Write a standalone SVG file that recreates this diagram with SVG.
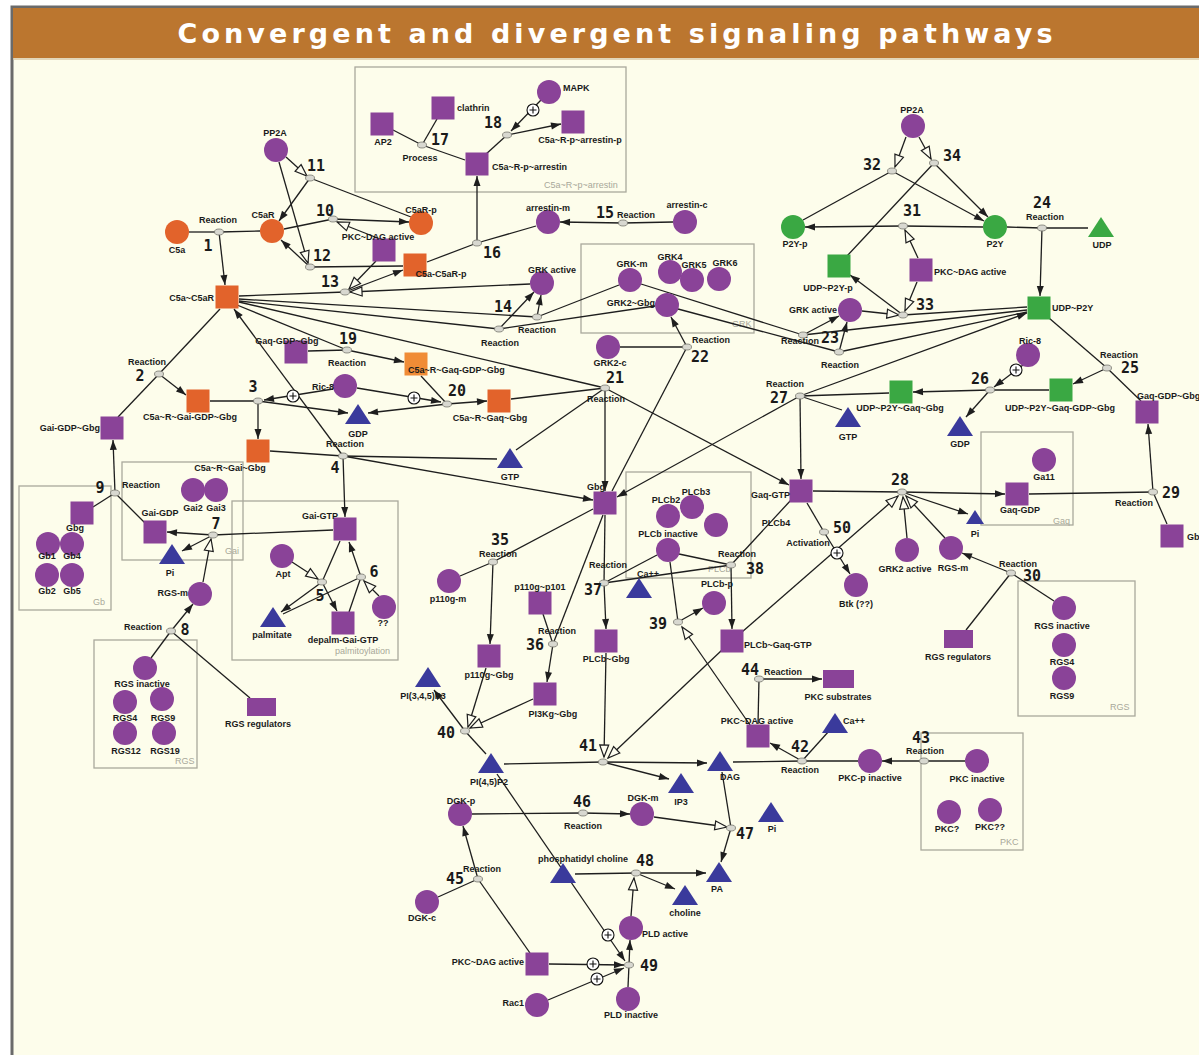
<svg xmlns="http://www.w3.org/2000/svg" xmlns:xlink="http://www.w3.org/1999/xlink" width="1199" height="1055" viewBox="0 0 1199 1055">
<style>
.p{fill:#8A4398}.o{fill:#E2632B}.lo{fill:#F08C36}.g{fill:#3AA843}.b{fill:#3A3A9C}
.t{font-family:"Liberation Sans",Arial,sans-serif;font-size:9px;font-weight:bold;fill:#1a1a1a;text-anchor:middle}
.s{text-anchor:start}.e{text-anchor:end}
.n{font-family:"DejaVu Sans Mono",monospace;font-size:15px;font-weight:bold;fill:#1a1a1a;text-anchor:middle}
.gl{font-family:"Liberation Sans",Arial,sans-serif;font-size:9px;fill:#a8a89a}
.box{fill:none;stroke:#aaa99c;stroke-width:1.3}
.rx{fill:#d8d8d0;stroke:#77776f;stroke-width:0.8}
#connectors line{stroke:#1e1e1e;stroke-width:1.3}
.a{marker-end:url(#ah)}.m{marker-end:url(#oh)}
.pl circle{fill:#fff;stroke:#111;stroke-width:1.1}.pl path{stroke:#111;stroke-width:1.1}
</style>
<defs>
<marker id="ah" markerUnits="userSpaceOnUse" markerWidth="11" markerHeight="8" refX="10" refY="3.5" orient="auto" overflow="visible"><path d="M0,0 L10,3.5 L0,7 z" fill="#1e1e1e"/></marker>
<marker id="oh" markerUnits="userSpaceOnUse" markerWidth="13" markerHeight="10" refX="12" refY="4.5" orient="auto" overflow="visible"><path d="M0,0 L12,4.5 L0,9 z" fill="#fdfdf0" stroke="#1e1e1e" stroke-width="1.2"/></marker>
<polygon id="tri" points="0,-11 -13,9 13,9"/>
<polygon id="trs" points="0,-8 -9,6 9,6"/>
</defs>
<rect width="1199" height="1055" fill="#ffffff"/>
<rect x="12" y="7" width="1190" height="1052" fill="#FDFDEB" stroke="#6a6a6a" stroke-width="3"/>
<rect x="13" y="8" width="1186" height="50" fill="#BB762F"/>
<line x1="13" y1="59" x2="1199" y2="59" stroke="#d8c9a8" stroke-width="1.5"/>
<text x="615" y="43" text-anchor="middle" font-family="DejaVu Sans,Verdana,sans-serif" font-weight="bold" font-size="27" fill="#ffffff" textLength="875" lengthAdjust="spacing">Convergent and divergent signaling pathways</text>

<g id="groups">
<rect class="box" x="355" y="67" width="271" height="125"/><text class="gl" x="544" y="188">C5a~R~p~arrestin</text>
<rect class="box" x="581" y="244" width="173" height="89"/><text class="gl" x="732" y="327">GRK</text>
<rect class="box" x="19" y="486" width="92" height="124"/><text class="gl" x="93" y="605">Gb</text>
<rect class="box" x="122" y="462" width="121" height="98"/><text class="gl" x="225" y="554">Gai</text>
<rect class="box" x="232" y="501" width="166" height="159"/><text class="gl" x="335" y="654">palmitoylation</text>
<rect class="box" x="94" y="640" width="103" height="128"/><text class="gl" x="175" y="764">RGS</text>
<rect class="box" x="626" y="472" width="125" height="106"/><text class="gl" x="708" y="572">PLCb</text>
<rect class="box" x="981" y="432" width="92" height="93"/><text class="gl" x="1053" y="524">Gaq</text>
<rect class="box" x="1018" y="581" width="117" height="135"/><text class="gl" x="1110" y="710">RGS</text>
<rect class="box" x="921" y="733" width="102" height="117"/><text class="gl" x="1000" y="845">PKC</text>
</g>

<g id="connectors">
<line x1="189" y1="232" x2="219" y2="232"/><line x1="219" y1="232" x2="260" y2="231"/><line class="a" x1="219" y1="232" x2="225" y2="285"/>
<line x1="284" y1="229" x2="333" y2="219"/><line class="a" x1="333" y1="219" x2="409" y2="222"/><line class="m" x1="380" y1="239" x2="337" y2="222"/>
<line class="m" x1="286" y1="157" x2="307" y2="176"/><line x1="310" y1="178" x2="411" y2="217"/><line class="a" x1="310" y1="178" x2="279" y2="221"/>
<line class="m" x1="279" y1="162" x2="308" y2="263"/><line x1="310" y1="267" x2="403" y2="266"/><line class="a" x1="310" y1="267" x2="281" y2="240"/>
<line x1="239" y1="296" x2="345" y2="292"/><line class="a" x1="345" y1="292" x2="403" y2="270"/><line class="m" x1="530" y1="284" x2="350" y2="292"/><line class="m" x1="376" y1="261" x2="349" y2="289"/>
<line x1="427" y1="262" x2="477" y2="243"/><line x1="477" y1="243" x2="536" y2="226"/><line class="a" x1="477" y1="243" x2="477" y2="176"/>
<line x1="673" y1="222" x2="623" y2="223"/><line class="a" x1="623" y1="223" x2="560" y2="222"/>
<line x1="393" y1="130" x2="422" y2="145"/><line x1="437" y1="119" x2="422" y2="145"/><line x1="422" y1="145" x2="465" y2="160"/>
<line x1="485" y1="155" x2="507" y2="135"/><line class="a" x1="507" y1="135" x2="561" y2="124"/><line class="a" x1="541" y1="100" x2="511" y2="131"/>
<line x1="239" y1="299" x2="537" y2="317"/><line x1="619" y1="285" x2="537" y2="317"/><line class="a" x1="537" y1="317" x2="541" y2="295"/>
<line x1="239" y1="301" x2="499" y2="329"/><line x1="655" y1="306" x2="499" y2="329"/><line class="a" x1="499" y1="329" x2="534" y2="292"/>
<line x1="620" y1="347" x2="687" y2="347"/><line class="a" x1="687" y1="347" x2="671" y2="317"/><line x1="612" y1="491" x2="687" y2="347"/>
<line x1="641" y1="284" x2="803" y2="335"/><line x1="1027" y1="310" x2="803" y2="335"/><line class="a" x1="803" y1="335" x2="839" y2="316"/>
<line x1="678" y1="309" x2="839" y2="352"/><line x1="1027" y1="312" x2="839" y2="352"/><line class="a" x1="839" y1="352" x2="847" y2="322"/>
<line x1="1027" y1="307" x2="903" y2="315"/><line class="m" x1="862" y1="311" x2="899" y2="315"/><line class="m" x1="917" y1="282" x2="905" y2="311"/><line class="a" x1="903" y1="315" x2="850" y2="275"/>
<line x1="983" y1="227" x2="903" y2="226"/><line class="a" x1="903" y1="226" x2="805" y2="227"/><line class="m" x1="918" y1="258" x2="905" y2="230"/>
<line class="m" x1="906" y1="137" x2="895" y2="167"/><line x1="803" y1="220" x2="892" y2="171"/><line class="a" x1="892" y1="171" x2="984" y2="221"/>
<line class="m" x1="919" y1="137" x2="931" y2="159"/><line x1="847" y1="256" x2="934" y2="163"/><line class="a" x1="934" y1="163" x2="988" y2="217"/>
<line x1="1007" y1="227" x2="1042" y2="228"/><line x1="1042" y1="228" x2="1088" y2="228"/><line class="a" x1="1042" y1="228" x2="1040" y2="296"/>
<line x1="1049" y1="318" x2="1107" y2="368"/><line x1="1107" y1="368" x2="1141" y2="401"/><line class="a" x1="1107" y1="368" x2="1073" y2="384"/>
<line x1="1049" y1="390" x2="990" y2="390"/><line class="a" x1="990" y1="390" x2="913" y2="392"/><line class="a" x1="990" y1="390" x2="966" y2="417"/><line class="a" x1="1023" y1="365" x2="994" y2="387"/>
<line x1="889" y1="393" x2="800" y2="396"/><line x1="842" y1="410" x2="800" y2="396"/><line class="a" x1="800" y1="396" x2="1027" y2="313"/><line class="a" x1="800" y1="396" x2="801" y2="479"/><line class="a" x1="800" y1="396" x2="617" y2="497"/>
<line x1="239" y1="302" x2="605" y2="388"/><line x1="511" y1="399" x2="605" y2="388"/><line x1="516" y1="450" x2="605" y2="388"/><line class="a" x1="605" y1="388" x2="605" y2="491"/><line class="a" x1="605" y1="388" x2="789" y2="485"/>
<line x1="308" y1="351" x2="347" y2="350"/><line x1="237" y1="305" x2="347" y2="350"/><line class="a" x1="347" y1="350" x2="404" y2="362"/>
<line x1="421" y1="376" x2="447" y2="404"/><line class="a" x1="447" y1="404" x2="487" y2="401"/><line class="a" x1="447" y1="404" x2="368" y2="413"/><line class="a" x1="357" y1="388" x2="441" y2="402"/>
<line x1="210" y1="401" x2="258" y2="401"/><line class="a" x1="258" y1="401" x2="258" y2="439"/><line class="a" x1="258" y1="401" x2="348" y2="413"/><line class="a" x1="333" y1="389" x2="264" y2="400"/>
<line x1="220" y1="309" x2="159" y2="374"/><line x1="118" y1="417" x2="159" y2="374"/><line class="a" x1="159" y1="374" x2="186" y2="395"/>
<line x1="270" y1="451" x2="343" y2="456"/><line x1="343" y1="456" x2="497" y2="459"/><line class="a" x1="343" y1="456" x2="345" y2="517"/><line class="a" x1="343" y1="456" x2="593" y2="500"/><line class="a" x1="343" y1="456" x2="234" y2="309"/>
<line x1="93" y1="507" x2="115" y2="493"/><line x1="145" y1="523" x2="115" y2="493"/><line class="a" x1="115" y1="493" x2="113" y2="440"/>
<line x1="333" y1="530" x2="213" y2="535"/><line class="a" x1="213" y1="535" x2="167" y2="532"/><line class="a" x1="213" y1="535" x2="182" y2="551"/><line class="m" x1="203" y1="582" x2="211" y2="539"/>
<line x1="151" y1="658" x2="171" y2="631"/><line x1="250" y1="698" x2="171" y2="631"/><line class="a" x1="171" y1="631" x2="193" y2="604"/>
<line x1="340" y1="541" x2="322" y2="582"/><line class="m" x1="292" y1="562" x2="318" y2="579"/><line class="a" x1="322" y1="582" x2="337" y2="611"/><line class="a" x1="322" y1="582" x2="281" y2="612"/>
<line x1="349" y1="612" x2="361" y2="577"/><line class="a" x1="361" y1="577" x2="349" y2="542"/><line x1="361" y1="577" x2="283" y2="614"/><line class="m" x1="379" y1="596" x2="364" y2="581"/>
<line x1="593" y1="509" x2="493" y2="562"/><line x1="460" y1="576" x2="493" y2="562"/><line class="a" x1="493" y1="562" x2="490" y2="644"/>
<line x1="603" y1="515" x2="553" y2="644"/><line x1="543" y1="614" x2="553" y2="644"/><line class="a" x1="553" y1="644" x2="547" y2="682"/>
<line x1="486" y1="754" x2="465" y2="731"/><line class="a" x1="465" y1="731" x2="434" y2="690"/><line class="m" x1="486" y1="668" x2="468" y2="727"/><line class="m" x1="533" y1="699" x2="470" y2="728"/>
<line x1="504" y1="764" x2="603" y2="762"/><line class="a" x1="603" y1="762" x2="707" y2="763"/><line class="a" x1="603" y1="762" x2="669" y2="779"/><line class="m" x1="606" y1="653" x2="604" y2="757"/><line class="m" x1="722" y1="650" x2="608" y2="758"/>
<line x1="733" y1="762" x2="802" y2="761"/><line x1="802" y1="761" x2="858" y2="761"/><line class="a" x1="802" y1="761" x2="770" y2="743"/><line x1="802" y1="761" x2="829" y2="731"/>
<line x1="965" y1="761" x2="924" y2="761"/><line class="a" x1="924" y1="761" x2="882" y2="761"/>
<line x1="758" y1="724" x2="759" y2="679"/><line class="a" x1="759" y1="679" x2="822" y2="679"/>
<line x1="670" y1="562" x2="678" y2="622"/><line class="a" x1="678" y1="622" x2="703" y2="608"/><line class="m" x1="750" y1="725" x2="682" y2="627"/>
<line x1="679" y1="554" x2="731" y2="565"/><line x1="791" y1="500" x2="731" y2="565"/><line class="a" x1="731" y1="565" x2="732" y2="629"/>
<line x1="657" y1="555" x2="604" y2="583"/><line x1="605" y1="515" x2="604" y2="583"/><line class="a" x1="604" y1="583" x2="606" y2="629"/><line x1="604" y1="583" x2="731" y2="565"/>
<line x1="813" y1="491" x2="902" y2="492"/><line class="a" x1="902" y1="492" x2="1005" y2="494"/><line class="a" x1="902" y1="492" x2="968" y2="514"/><line class="m" x1="907" y1="538" x2="903" y2="497"/><line class="m" x1="945" y1="538" x2="906" y2="496"/><line class="m" x1="742" y1="632" x2="898" y2="496"/>
<line x1="1029" y1="494" x2="1153" y2="492"/><line x1="1167" y1="524" x2="1153" y2="492"/><line class="a" x1="1153" y1="492" x2="1148" y2="424"/>
<line x1="1054" y1="601" x2="1011" y2="573"/><line x1="966" y1="630" x2="1011" y2="573"/><line class="a" x1="1011" y1="573" x2="962" y2="553"/>
<line x1="807" y1="503" x2="824" y2="532"/><line class="a" x1="824" y1="532" x2="850" y2="574"/>
<line x1="472" y1="814" x2="583" y2="813"/><line class="a" x1="583" y1="813" x2="630" y2="814"/>
<line class="m" x1="654" y1="817" x2="727" y2="827"/><line x1="722" y1="772" x2="731" y2="828"/><line class="a" x1="731" y1="828" x2="721" y2="862"/>
<line x1="438" y1="897" x2="478" y2="879"/><line x1="530" y1="953" x2="478" y2="879"/><line class="a" x1="478" y1="879" x2="463" y2="826"/>
<line x1="575" y1="874" x2="636" y2="873"/><line class="a" x1="636" y1="873" x2="706" y2="873"/><line class="a" x1="636" y1="873" x2="675" y2="889"/><line class="m" x1="631" y1="916" x2="634" y2="878"/>
<line x1="628" y1="987" x2="629" y2="965"/><line class="a" x1="629" y1="965" x2="630" y2="940"/><line class="a" x1="549" y1="964" x2="624" y2="965"/><line class="a" x1="548" y1="1000" x2="624" y2="968"/><line class="a" x1="497" y1="774" x2="625" y2="961"/>
</g>

<g id="plus" class="pl">
<g transform="translate(533,110)"><circle r="6"/><path d="M-3.5,0 H3.5 M0,-3.5 V3.5"/></g>
<g transform="translate(293,396)"><circle r="6"/><path d="M-3.5,0 H3.5 M0,-3.5 V3.5"/></g>
<g transform="translate(414,398)"><circle r="6"/><path d="M-3.5,0 H3.5 M0,-3.5 V3.5"/></g>
<g transform="translate(1016,370)"><circle r="6"/><path d="M-3.5,0 H3.5 M0,-3.5 V3.5"/></g>
<g transform="translate(837,553)"><circle r="6"/><path d="M-3.5,0 H3.5 M0,-3.5 V3.5"/></g>
<g transform="translate(608,935)"><circle r="6"/><path d="M-3.5,0 H3.5 M0,-3.5 V3.5"/></g>
<g transform="translate(593,964)"><circle r="6"/><path d="M-3.5,0 H3.5 M0,-3.5 V3.5"/></g>
<g transform="translate(597,979)"><circle r="6"/><path d="M-3.5,0 H3.5 M0,-3.5 V3.5"/></g>
</g>

<g id="reactions">
<g id="r1"><ellipse class="rx" cx="219" cy="232" rx="4.5" ry="3"/><text class="n" x="208" y="251">1</text><text class="t" x="218" y="223">Reaction</text></g>
<g id="r2"><ellipse class="rx" cx="159" cy="374" rx="4.5" ry="3"/><text class="n" x="140" y="381">2</text><text class="t" x="147" y="365">Reaction</text></g>
<g id="r3"><ellipse class="rx" cx="258" cy="401" rx="4.5" ry="3"/><text class="n" x="253" y="392">3</text></g>
<g id="r4"><ellipse class="rx" cx="343" cy="456" rx="4.5" ry="3"/><text class="n" x="335" y="473">4</text><text class="t" x="345" y="447">Reaction</text></g>
<g id="r5"><ellipse class="rx" cx="322" cy="582" rx="4.5" ry="3"/><text class="n" x="320" y="601">5</text></g>
<g id="r6"><ellipse class="rx" cx="361" cy="577" rx="4.5" ry="3"/><text class="n" x="374" y="577">6</text></g>
<g id="r7"><ellipse class="rx" cx="213" cy="535" rx="4.5" ry="3"/><text class="n" x="216" y="529">7</text></g>
<g id="r8"><ellipse class="rx" cx="171" cy="631" rx="4.5" ry="3"/><text class="n" x="185" y="635">8</text><text class="t" x="143" y="630">Reaction</text></g>
<g id="r9"><ellipse class="rx" cx="115" cy="493" rx="4.5" ry="3"/><text class="n" x="100" y="493">9</text><text class="t" x="141" y="488">Reaction</text></g>
<g id="r10"><ellipse class="rx" cx="333" cy="219" rx="4.5" ry="3"/><text class="n" x="325" y="216">10</text></g>
<g id="r11"><ellipse class="rx" cx="310" cy="178" rx="4.5" ry="3"/><text class="n" x="316" y="171">11</text></g>
<g id="r12"><ellipse class="rx" cx="310" cy="267" rx="4.5" ry="3"/><text class="n" x="322" y="261">12</text></g>
<g id="r13"><ellipse class="rx" cx="345" cy="292" rx="4.5" ry="3"/><text class="n" x="330" y="287">13</text></g>
<g id="r14"><ellipse class="rx" cx="537" cy="317" rx="4.5" ry="3"/><ellipse class="rx" cx="499" cy="329" rx="4.5" ry="3"/><text class="n" x="503" y="312">14</text><text class="t" x="537" y="333">Reaction</text><text class="t" x="500" y="346">Reaction</text></g>
<g id="r15"><ellipse class="rx" cx="623" cy="223" rx="4.5" ry="3"/><text class="n" x="605" y="218">15</text><text class="t s" x="617" y="218">Reaction</text></g>
<g id="r16"><ellipse class="rx" cx="477" cy="243" rx="4.5" ry="3"/><text class="n" x="492" y="258">16</text></g>
<g id="r17"><ellipse class="rx" cx="422" cy="145" rx="4.5" ry="3"/><text class="n" x="440" y="145">17</text><text class="t" x="420" y="161">Process</text></g>
<g id="r18"><ellipse class="rx" cx="507" cy="135" rx="4.5" ry="3"/><text class="n" x="493" y="128">18</text></g>
<g id="r19"><ellipse class="rx" cx="347" cy="350" rx="4.5" ry="3"/><text class="n" x="348" y="344">19</text><text class="t" x="347" y="366">Reaction</text></g>
<g id="r20"><ellipse class="rx" cx="447" cy="404" rx="4.5" ry="3"/><text class="n" x="457" y="396">20</text></g>
<g id="r21"><ellipse class="rx" cx="605" cy="388" rx="4.5" ry="3"/><text class="n" x="615" y="383">21</text><text class="t" x="606" y="402">Reaction</text></g>
<g id="r22"><ellipse class="rx" cx="687" cy="347" rx="4.5" ry="3"/><text class="n" x="700" y="362">22</text><text class="t" x="711" y="343">Reaction</text></g>
<g id="r23"><ellipse class="rx" cx="803" cy="335" rx="4.5" ry="3"/><ellipse class="rx" cx="839" cy="352" rx="4.5" ry="3"/><text class="n" x="830" y="343">23</text><text class="t" x="800" y="344">Reaction</text><text class="t" x="840" y="368">Reaction</text></g>
<g id="r24"><ellipse class="rx" cx="1042" cy="228" rx="4.5" ry="3"/><text class="n" x="1042" y="208">24</text><text class="t" x="1045" y="220">Reaction</text></g>
<g id="r25"><ellipse class="rx" cx="1107" cy="368" rx="4.5" ry="3"/><text class="n" x="1130" y="373">25</text><text class="t" x="1119" y="358">Reaction</text></g>
<g id="r26"><ellipse class="rx" cx="990" cy="390" rx="4.5" ry="3"/><text class="n" x="980" y="384">26</text></g>
<g id="r27"><ellipse class="rx" cx="800" cy="396" rx="4.5" ry="3"/><text class="n" x="779" y="403">27</text><text class="t" x="785" y="387">Reaction</text></g>
<g id="r28"><ellipse class="rx" cx="902" cy="492" rx="4.5" ry="3"/><text class="n" x="900" y="485">28</text></g>
<g id="r29"><ellipse class="rx" cx="1153" cy="492" rx="4.5" ry="3"/><text class="n" x="1171" y="498">29</text><text class="t" x="1134" y="506">Reaction</text></g>
<g id="r30"><ellipse class="rx" cx="1011" cy="573" rx="4.5" ry="3"/><text class="n" x="1032" y="581">30</text><text class="t" x="1018" y="567">Reaction</text></g>
<g id="r31"><ellipse class="rx" cx="903" cy="226" rx="4.5" ry="3"/><text class="n" x="912" y="216">31</text></g>
<g id="r32"><ellipse class="rx" cx="892" cy="171" rx="4.5" ry="3"/><text class="n" x="872" y="170">32</text></g>
<g id="r33"><ellipse class="rx" cx="903" cy="315" rx="4.5" ry="3"/><text class="n" x="925" y="310">33</text></g>
<g id="r34"><ellipse class="rx" cx="934" cy="163" rx="4.5" ry="3"/><text class="n" x="952" y="161">34</text></g>
<g id="r35"><ellipse class="rx" cx="493" cy="562" rx="4.5" ry="3"/><text class="n" x="500" y="545">35</text><text class="t" x="498" y="557">Reaction</text></g>
<g id="r36"><ellipse class="rx" cx="553" cy="644" rx="4.5" ry="3"/><text class="n" x="535" y="650">36</text><text class="t" x="557" y="634">Reaction</text></g>
<g id="r37"><ellipse class="rx" cx="604" cy="583" rx="4.5" ry="3"/><text class="n" x="593" y="595">37</text><text class="t" x="608" y="568">Reaction</text></g>
<g id="r38"><ellipse class="rx" cx="731" cy="565" rx="4.5" ry="3"/><text class="n" x="755" y="574">38</text><text class="t" x="737" y="557">Reaction</text></g>
<g id="r39"><ellipse class="rx" cx="678" cy="622" rx="4.5" ry="3"/><text class="n" x="658" y="629">39</text></g>
<g id="r40"><ellipse class="rx" cx="465" cy="731" rx="4.5" ry="3"/><text class="n" x="446" y="738">40</text></g>
<g id="r41"><ellipse class="rx" cx="603" cy="762" rx="4.5" ry="3"/><text class="n" x="588" y="751">41</text></g>
<g id="r42"><ellipse class="rx" cx="802" cy="761" rx="4.5" ry="3"/><text class="n" x="800" y="752">42</text><text class="t" x="800" y="773">Reaction</text></g>
<g id="r43"><ellipse class="rx" cx="924" cy="761" rx="4.5" ry="3"/><text class="n" x="921" y="743">43</text><text class="t" x="925" y="754">Reaction</text></g>
<g id="r44"><ellipse class="rx" cx="759" cy="679" rx="4.5" ry="3"/><text class="n" x="750" y="675">44</text><text class="t s" x="764" y="675">Reaction</text></g>
<g id="r45"><ellipse class="rx" cx="478" cy="879" rx="4.5" ry="3"/><text class="n" x="455" y="884">45</text><text class="t" x="482" y="872">Reaction</text></g>
<g id="r46"><ellipse class="rx" cx="583" cy="813" rx="4.5" ry="3"/><text class="n" x="582" y="807">46</text><text class="t" x="583" y="829">Reaction</text></g>
<g id="r47"><ellipse class="rx" cx="731" cy="828" rx="4.5" ry="3"/><text class="n" x="745" y="839">47</text></g>
<g id="r48"><ellipse class="rx" cx="636" cy="873" rx="4.5" ry="3"/><text class="n" x="645" y="866">48</text></g>
<g id="r49"><ellipse class="rx" cx="629" cy="965" rx="4.5" ry="3"/><text class="n" x="649" y="971">49</text></g>
<g id="r50"><ellipse class="rx" cx="824" cy="532" rx="4.5" ry="3"/><text class="n" x="842" y="533">50</text><text class="t" x="808" y="546">Activation</text></g>
<text class="t" x="776" y="526">PLCb4</text>
</g>

<g id="nodes">
<g id="C5a"><circle class="o" cx="177" cy="232" r="12"/><text class="t" x="177" y="253">C5a</text></g>
<g id="C5aR"><circle class="o" cx="272" cy="231" r="12"/><text class="t" x="263" y="218">C5aR</text></g>
<g id="PP2A-1"><circle class="p" cx="276" cy="150" r="12"/><text class="t" x="275" y="136">PP2A</text></g>
<g id="C5aR-p"><circle class="o" cx="421" cy="223" r="12"/><text class="t" x="421" y="213">C5aR-p</text></g>
<g id="PKC-DAG-1"><rect class="p" x="372.5" y="238.5" width="23" height="23"/><text class="t" x="378" y="240">PKC~DAG active</text></g>
<g id="C5a-C5aR-p"><rect class="o" x="403.5" y="253.5" width="23" height="23"/><text class="t" x="441" y="277">C5a-C5aR-p</text></g>
<g id="C5a-C5aR"><rect class="o" x="215.5" y="285.5" width="23" height="23"/><text class="t e" x="214" y="301">C5a~C5aR</text></g>
<g id="arrestin-m"><circle class="p" cx="548" cy="222" r="12"/><text class="t" x="548" y="211">arrestin-m</text></g>
<g id="arrestin-c"><circle class="p" cx="685" cy="222" r="12"/><text class="t" x="687" y="208">arrestin-c</text></g>
<g id="GRK-active-1"><circle class="p" cx="542" cy="283" r="12"/><text class="t" x="552" y="273">GRK active</text></g>
<g id="AP2"><rect class="p" x="370.5" y="112.5" width="23" height="23"/><text class="t" x="383" y="145">AP2</text></g>
<g id="clathrin"><rect class="p" x="431.5" y="96.5" width="23" height="23"/><text class="t s" x="457" y="111">clathrin</text></g>
<g id="C5a-R-p-arrestin"><rect class="p" x="465.5" y="152.5" width="23" height="23"/><text class="t s" x="492" y="170">C5a~R-p~arrestin</text></g>
<g id="MAPK"><circle class="p" cx="549" cy="92" r="12"/><text class="t s" x="563" y="91">MAPK</text></g>
<g id="C5a-R-p-arrestin-p"><rect class="p" x="561.5" y="110.5" width="23" height="23"/><text class="t" x="580" y="143">C5a~R-p~arrestin-p</text></g>
<g id="GRK-m"><circle class="p" cx="630" cy="280" r="12"/><text class="t" x="632" y="267">GRK-m</text></g>
<g id="GRK4"><circle class="p" cx="670" cy="272" r="12"/><text class="t" x="670" y="260">GRK4</text></g>
<g id="GRK5"><circle class="p" cx="692" cy="280" r="12"/><text class="t" x="694" y="268">GRK5</text></g>
<g id="GRK6"><circle class="p" cx="719" cy="279" r="12"/><text class="t" x="725" y="266">GRK6</text></g>
<g id="GRK2-Gbg"><circle class="p" cx="667" cy="305" r="12"/><text class="t e" x="655" y="306">GRK2~Gbg</text></g>
<g id="GRK2-c"><circle class="p" cx="608" cy="347" r="12"/><text class="t" x="610" y="366">GRK2-c</text></g>
<g id="PP2A-2"><circle class="p" cx="913" cy="126" r="12"/><text class="t" x="912" y="113">PP2A</text></g>
<g id="P2Y-p"><circle class="g" cx="793" cy="227" r="12"/><text class="t" x="795" y="247">P2Y-p</text></g>
<g id="P2Y"><circle class="g" cx="995" cy="227" r="12"/><text class="t" x="995" y="247">P2Y</text></g>
<g id="UDP"><use href="#tri" class="g" x="1101" y="228"/><text class="t" x="1102" y="248">UDP</text></g>
<g id="PKC-DAG-2"><rect class="p" x="909.5" y="258.5" width="23" height="23"/><text class="t s" x="934" y="275">PKC~DAG active</text></g>
<g id="UDP-P2Y"><rect class="g" x="1027.5" y="296.5" width="23" height="23"/><text class="t s" x="1052" y="311">UDP~P2Y</text></g>
<g id="UDP-P2Y-p"><rect class="g" x="827.5" y="254.5" width="23" height="23"/><text class="t" x="828" y="291">UDP~P2Y-p</text></g>
<g id="GRK-active-2"><circle class="p" cx="850" cy="310" r="12"/><text class="t e" x="837" y="313">GRK active</text></g>
<g id="Ric-8-2"><circle class="p" cx="1028" cy="355" r="12"/><text class="t" x="1030" y="344">Ric-8</text></g>
<g id="UDP-P2Y-Gaq-GDP-Gbg"><rect class="g" x="1049.5" y="378.5" width="23" height="23"/><text class="t" x="1060" y="411">UDP~P2Y~Gaq-GDP~Gbg</text></g>
<g id="UDP-P2Y-Gaq-Gbg"><rect class="g" x="889.5" y="380.5" width="23" height="23"/><text class="t" x="900" y="411">UDP~P2Y~Gaq~Gbg</text></g>
<g id="GDP-2"><use href="#tri" class="b" x="960" y="427"/><text class="t" x="960" y="447">GDP</text></g>
<g id="Gaq-GDP-Gbg-2"><rect class="p" x="1135.5" y="400.5" width="23" height="23"/><text class="t s" x="1137" y="399">Gaq-GDP~Gbg</text></g>
<g id="GTP-2"><use href="#tri" class="b" x="848" y="418"/><text class="t" x="848" y="440">GTP</text></g>
<g id="Gaq-GDP-Gbg-1"><rect class="p" x="284.5" y="340.5" width="23" height="23"/><text class="t" x="287" y="344">Gaq-GDP~Gbg</text></g>
<g id="C5a-R-Gaq-GDP-Gbg"><rect class="lo" x="404.5" y="352.5" width="23" height="23"/><text class="t s" x="408" y="373">C5a~R~Gaq-GDP~Gbg</text></g>
<g id="Ric-8-1"><circle class="p" cx="345" cy="386" r="12"/><text class="t e" x="334" y="390">Ric-8</text></g>
<g id="C5a-R-Gaq-Gbg"><rect class="o" x="487.5" y="389.5" width="23" height="23"/><text class="t" x="490" y="421">C5a~R~Gaq~Gbg</text></g>
<g id="GDP-1"><use href="#tri" class="b" x="358" y="415"/><text class="t" x="358" y="437">GDP</text></g>
<g id="C5a-R-Gai-GDP-Gbg"><rect class="o" x="186.5" y="389.5" width="23" height="23"/><text class="t" x="190" y="420">C5a~R~Gai-GDP~Gbg</text></g>
<g id="Gai-GDP-Gbg"><rect class="p" x="100.5" y="416.5" width="23" height="23"/><text class="t e" x="100" y="431">Gai-GDP~Gbg</text></g>
<g id="C5a-R-Gai-Gbg"><rect class="o" x="246.5" y="439.5" width="23" height="23"/><text class="t" x="230" y="471">C5a~R~Gai~Gbg</text></g>
<g id="GTP-1"><use href="#tri" class="b" x="510" y="459"/><text class="t" x="510" y="480">GTP</text></g>
<g id="Gbg"><rect class="p" x="593.5" y="491.5" width="23" height="23"/><text class="t" x="596" y="490">Gbg</text></g>
<g id="Gaq-GTP"><rect class="p" x="789.5" y="479.5" width="23" height="23"/><text class="t e" x="790" y="498">Gaq-GTP</text></g>
<g id="Ga11"><circle class="p" cx="1044" cy="460" r="12"/><text class="t" x="1044" y="480">Ga11</text></g>
<g id="Gaq-GDP"><rect class="p" x="1005.5" y="482.5" width="23" height="23"/><text class="t" x="1020" y="513">Gaq-GDP</text></g>
<g id="Pi-3"><use href="#trs" class="b" x="975" y="518"/><text class="t" x="975" y="537">Pi</text></g>
<g id="Gbg-3"><rect class="p" x="1160.5" y="524.5" width="23" height="23"/><text class="t s" x="1187" y="540">Gb</text></g>
<g id="GRK2-active"><circle class="p" cx="907" cy="550" r="12"/><text class="t" x="905" y="572">GRK2 active</text></g>
<g id="RGS-m-2"><circle class="p" cx="951" cy="548" r="12"/><text class="t" x="953" y="571">RGS-m</text></g>
<g id="RGS-inactive-2"><circle class="p" cx="1064" cy="608" r="12"/><text class="t" x="1062" y="629">RGS inactive</text></g>
<g id="RGS4-2"><circle class="p" cx="1064" cy="645" r="12"/><text class="t" x="1062" y="665">RGS4</text></g>
<g id="RGS9-2"><circle class="p" cx="1064" cy="678" r="12"/><text class="t" x="1062" y="699">RGS9</text></g>
<g id="RGS-regulators-2"><rect class="p" x="944" y="630" width="29" height="18"/><text class="t" x="958" y="660">RGS regulators</text></g>
<g id="Gbg-1"><rect class="p" x="70.5" y="501.5" width="23" height="23"/><text class="t" x="75" y="531">Gbg</text></g>
<g id="Gb1"><circle class="p" cx="48" cy="544" r="12"/><text class="t" x="47" y="559">Gb1</text></g>
<g id="Gb4"><circle class="p" cx="72" cy="544" r="12"/><text class="t" x="72" y="559">Gb4</text></g>
<g id="Gb2"><circle class="p" cx="47" cy="575" r="12"/><text class="t" x="47" y="594">Gb2</text></g>
<g id="Gb5"><circle class="p" cx="72" cy="575" r="12"/><text class="t" x="72" y="594">Gb5</text></g>
<g id="Gai2"><circle class="p" cx="193" cy="490" r="12"/><text class="t" x="193" y="511">Gai2</text></g>
<g id="Gai3"><circle class="p" cx="216" cy="490" r="12"/><text class="t" x="216" y="511">Gai3</text></g>
<g id="Gai-GDP"><rect class="p" x="143.5" y="520.5" width="23" height="23"/><text class="t" x="160" y="516">Gai-GDP</text></g>
<g id="Pi-1"><use href="#tri" class="b" x="172" y="555"/><text class="t" x="170" y="576">Pi</text></g>
<g id="RGS-m-1"><circle class="p" cx="200" cy="594" r="12"/><text class="t e" x="188" y="596">RGS-m</text></g>
<g id="RGS-inactive-1"><circle class="p" cx="145" cy="668" r="12"/><text class="t" x="142" y="687">RGS inactive</text></g>
<g id="RGS4-1"><circle class="p" cx="125" cy="702" r="12"/><text class="t" x="125" y="721">RGS4</text></g>
<g id="RGS9-1"><circle class="p" cx="162" cy="699" r="12"/><text class="t" x="163" y="721">RGS9</text></g>
<g id="RGS12"><circle class="p" cx="125" cy="733" r="12"/><text class="t" x="126" y="754">RGS12</text></g>
<g id="RGS19"><circle class="p" cx="164" cy="733" r="12"/><text class="t" x="165" y="754">RGS19</text></g>
<g id="RGS-regulators-1"><rect class="p" x="247" y="698" width="29" height="18"/><text class="t" x="258" y="727">RGS regulators</text></g>
<g id="Gai-GTP"><rect class="p" x="333.5" y="517.5" width="23" height="23"/><text class="t" x="320" y="519">Gai-GTP</text></g>
<g id="Apt"><circle class="p" cx="282" cy="556" r="12"/><text class="t" x="283" y="577">Apt</text></g>
<g id="palmitate"><use href="#tri" class="b" x="273" y="618"/><text class="t" x="272" y="638">palmitate</text></g>
<g id="depalm-Gai-GTP"><rect class="p" x="331.5" y="611.5" width="23" height="23"/><text class="t" x="343" y="643">depalm-Gai-GTP</text></g>
<g id="qq"><circle class="p" cx="384" cy="607" r="12"/><text class="t" x="383" y="626">??</text></g>
<g id="p110g-m"><circle class="p" cx="449" cy="581" r="12"/><text class="t" x="448" y="602">p110g-m</text></g>
<g id="p110g-p101"><rect class="p" x="528.5" y="591.5" width="23" height="23"/><text class="t" x="540" y="590">p110g~p101</text></g>
<g id="p110g-Gbg"><rect class="p" x="477.5" y="644.5" width="23" height="23"/><text class="t" x="489" y="678">p110g~Gbg</text></g>
<g id="PI3Kg-Gbg"><rect class="p" x="533.5" y="682.5" width="23" height="23"/><text class="t" x="553" y="717">PI3Kg~Gbg</text></g>
<g id="PIP3"><use href="#tri" class="b" x="428" y="678"/><text class="t" x="423" y="699">PI(3,4,5)P3</text></g>
<g id="PIP2"><use href="#tri" class="b" x="491" y="764"/><text class="t" x="489" y="785">PI(4,5)P2</text></g>
<g id="Ca-1"><use href="#tri" class="b" x="639" y="589"/><text class="t" x="648" y="577">Ca++</text></g>
<g id="PLCb-Gbg"><rect class="p" x="594.5" y="629.5" width="23" height="23"/><text class="t" x="606" y="662">PLCb~Gbg</text></g>
<g id="PLCb2"><circle class="p" cx="668" cy="516" r="12"/><text class="t" x="666" y="503">PLCb2</text></g>
<g id="PLCb3"><circle class="p" cx="692" cy="507" r="12"/><text class="t" x="696" y="495">PLCb3</text></g>
<g id="PLCb-x"><circle class="p" cx="716" cy="525" r="12"/></g>
<g id="PLCb-inactive"><circle class="p" cx="668" cy="550" r="12"/><text class="t" x="668" y="537">PLCb inactive</text></g>
<g id="PLCb-p"><circle class="p" cx="714" cy="603" r="12"/><text class="t" x="717" y="587">PLCb-p</text></g>
<g id="PLCb-Gaq-GTP"><rect class="p" x="720.5" y="629.5" width="23" height="23"/><text class="t s" x="744" y="648">PLCb~Gaq-GTP</text></g>
<g id="Btk"><circle class="p" cx="856" cy="585" r="12"/><text class="t" x="856" y="607">Btk (??)</text></g>
<g id="PKC-substrates"><rect class="p" x="823" y="670" width="31" height="18"/><text class="t" x="838" y="700">PKC substrates</text></g>
<g id="PKC-DAG-3"><rect class="p" x="746.5" y="724.5" width="23" height="23"/><text class="t" x="757" y="724">PKC~DAG active</text></g>
<g id="Ca-2"><use href="#tri" class="b" x="835" y="724"/><text class="t s" x="843" y="724">Ca++</text></g>
<g id="PKC-p-inactive"><circle class="p" cx="870" cy="761" r="12"/><text class="t" x="870" y="781">PKC-p inactive</text></g>
<g id="DAG"><use href="#tri" class="b" x="720" y="762"/><text class="t" x="730" y="780">DAG</text></g>
<g id="IP3"><use href="#tri" class="b" x="681" y="784"/><text class="t" x="681" y="805">IP3</text></g>
<g id="PKC-inactive"><circle class="p" cx="977" cy="761" r="12"/><text class="t" x="977" y="782">PKC inactive</text></g>
<g id="PKCq"><circle class="p" cx="949" cy="812" r="12"/><text class="t" x="947" y="832">PKC?</text></g>
<g id="PKCqq"><circle class="p" cx="990" cy="810" r="12"/><text class="t" x="990" y="830">PKC??</text></g>
<g id="Pi-2"><use href="#tri" class="b" x="771" y="813"/><text class="t" x="772" y="832">Pi</text></g>
<g id="DGK-p"><circle class="p" cx="460" cy="814" r="12"/><text class="t" x="461" y="804">DGK-p</text></g>
<g id="DGK-m"><circle class="p" cx="642" cy="814" r="12"/><text class="t" x="643" y="801">DGK-m</text></g>
<g id="DGK-c"><circle class="p" cx="427" cy="902" r="12"/><text class="t" x="422" y="921">DGK-c</text></g>
<g id="PC"><use href="#tri" class="b" x="563" y="874"/><text class="t" x="583" y="862">phosphatidyl choline</text></g>
<g id="PA"><use href="#tri" class="b" x="719" y="873"/><text class="t" x="717" y="892">PA</text></g>
<g id="choline"><use href="#tri" class="b" x="685" y="896"/><text class="t" x="685" y="916">choline</text></g>
<g id="PLD-active"><circle class="p" cx="631" cy="928" r="12"/><text class="t s" x="642" y="937">PLD active</text></g>
<g id="PKC-DAG-4"><rect class="p" x="525.5" y="952.5" width="23" height="23"/><text class="t e" x="524" y="965">PKC~DAG active</text></g>
<g id="Rac1"><circle class="p" cx="537" cy="1005" r="12"/><text class="t e" x="524" y="1006">Rac1</text></g>
<g id="PLD-inactive"><circle class="p" cx="628" cy="999" r="12"/><text class="t" x="631" y="1018">PLD inactive</text></g>
</g>
</svg>
